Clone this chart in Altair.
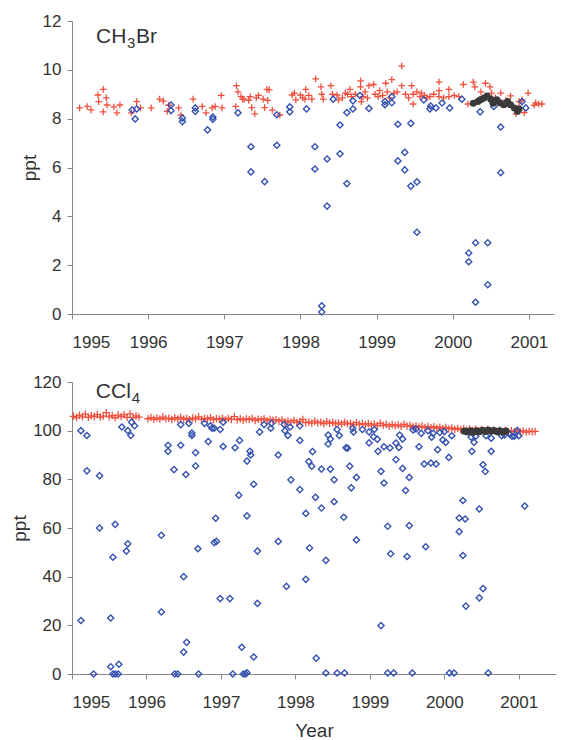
import altair as alt
import pandas as pd

# ---------------- CH3Br panel data ----------------
CH3BR_RED_YEAR = [
    1995.10, 1995.20, 1995.25, 1995.34, 1995.41, 1995.35, 1995.45, 1995.41, 1995.46, 1995.55,
    1995.59, 1995.63, 1995.78, 1995.85, 1995.90, 1996.04, 1996.15, 1996.20, 1996.25, 1996.27,
    1996.40, 1996.43, 1996.59, 1996.71, 1996.76, 1996.84, 1996.88, 1996.96, 1996.97, 1997.16,
    1997.18, 1997.22, 1997.24, 1997.15, 1997.26, 1997.32, 1997.34, 1997.42, 1997.45, 1997.51,
    1997.56, 1997.57, 1997.53, 1997.63, 1997.36, 1997.40, 1997.73, 1997.59, 1997.89, 1997.94,
    1998.00, 1998.07, 1998.06, 1998.11, 1998.15, 1998.20, 1998.27, 1998.28, 1998.30, 1998.40,
    1998.42, 1998.48, 1998.50, 1998.59, 1998.65, 1998.67, 1998.79, 1998.79, 1998.80, 1998.82,
    1998.85, 1998.90, 1998.96, 1998.98, 1999.02, 1999.04, 1999.12, 1999.14, 1999.20, 1999.27,
    1999.33, 1999.33, 1999.38, 1999.46, 1999.48, 1999.48, 1999.53, 1999.57, 1999.59, 1999.63,
    1999.70, 1999.82, 1999.82, 1999.82, 1999.95, 1999.95, 2000.08, 2000.14, 2000.20, 2000.27,
    2000.29, 2000.37, 2000.43, 2000.49, 2000.51, 2000.63, 2000.76, 2000.83, 2000.91, 2000.99,
    2000.94, 2001.09, 2001.13, 2001.17, 2001.07, 1997.92, 1998.03, 1998.55, 1998.62, 1998.72,
    1998.88, 1999.08, 1999.17, 1999.23, 1999.42, 1999.66, 1999.75, 1999.88, 2000.02, 2000.33,
    2000.56, 2000.70, 2000.87,
]
CH3BR_RED_PPT = [
    8.44, 8.50, 8.36, 8.97, 9.20, 8.70, 8.85, 8.28, 8.56, 8.48,
    8.24, 8.56, 8.24, 8.70, 8.44, 8.44, 8.80, 8.72, 8.30, 8.55,
    8.44, 8.15, 8.80, 8.50, 8.24, 8.44, 8.50, 8.95, 8.44, 9.35,
    9.10, 8.90, 8.80, 8.50, 8.80, 8.75, 8.90, 8.85, 8.95, 8.80,
    9.20, 8.75, 8.45, 8.35, 8.45, 8.20, 8.15, 9.18, 8.97, 8.77,
    8.97, 9.20, 8.80, 8.95, 8.80, 9.63, 9.30, 9.00, 8.80, 9.35,
    9.00, 8.97, 8.77, 9.05, 9.20, 8.90, 9.55, 9.30, 8.70, 8.90,
    9.10, 9.35, 9.40, 9.00, 8.90, 9.15, 9.45, 9.10, 9.60, 9.10,
    10.15, 9.35, 9.00, 9.35, 9.00, 8.60, 9.10, 8.90, 9.05, 8.95,
    8.90, 9.50, 9.15, 8.90, 9.20, 8.90, 8.90, 9.40, 8.60, 9.50,
    9.30, 9.10, 9.45, 9.30, 9.05, 9.05, 8.93, 8.20, 8.77, 9.05,
    8.25, 8.65, 8.60, 8.60, 8.55, 9.05, 8.85, 8.85, 9.00, 9.00,
    8.85, 8.95, 8.85, 9.05, 8.85, 8.85, 9.00, 8.85, 8.95, 8.75,
    8.85, 8.75, 8.70,
]
CH3BR_BLUE_YEAR = [
    1995.79, 1995.85, 1995.83, 1996.30, 1996.30, 1996.45, 1996.45, 1996.62, 1996.62, 1996.85,
    1996.85, 1996.78, 1997.18, 1997.35, 1997.35, 1997.53, 1997.69, 1997.69, 1997.86, 1997.86,
    1998.08, 1998.19, 1998.19, 1998.28, 1998.28, 1998.35, 1998.35, 1998.43, 1998.52, 1998.52,
    1998.61, 1998.61, 1998.69, 1998.69, 1998.78, 1998.90, 1999.11, 1999.11, 1999.20, 1999.20,
    1999.28, 1999.28, 1999.37, 1999.37, 1999.45, 1999.45, 1999.53, 1999.53, 1999.62, 1999.71,
    1999.70, 1999.78, 1999.86, 1999.96, 2000.12, 2000.21, 2000.21, 2000.30, 2000.30, 2000.36,
    2000.46, 2000.46, 2000.54, 2000.63, 2000.63, 2000.91, 2000.96,
]
CH3BR_BLUE_PPT = [
    8.36, 8.40, 7.99, 8.56, 8.33, 8.02, 7.88, 8.44, 8.30, 8.07,
    7.98, 7.54, 8.24, 6.85, 5.82, 5.42, 8.16, 6.91, 8.48, 8.28,
    8.40, 6.85, 5.94, 0.33, 0.08, 6.35, 4.42, 8.80, 7.74, 6.56,
    8.25, 5.34, 8.40, 8.73, 8.95, 8.42, 8.57, 8.70, 8.90, 8.65,
    7.77, 6.27, 6.62, 5.90, 7.81, 5.24, 5.41, 3.35, 8.77, 8.52,
    8.40, 8.44, 8.64, 8.44, 8.80, 2.50, 2.14, 2.92, 0.48, 8.28,
    2.92, 1.20, 8.50, 7.66, 5.79, 8.70, 8.44,
]
CH3BR_DARK_YEAR = [
    2000.27, 2000.33, 2000.37, 2000.41, 2000.45, 2000.50, 2000.53, 2000.58, 2000.62, 2000.67,
    2000.72, 2000.76, 2000.81, 2000.85, 2000.87, 2000.55, 2000.70,
]
CH3BR_DARK_PPT = [
    8.63, 8.70, 8.78, 8.85, 8.93, 8.80, 8.63, 8.77, 8.65, 8.57,
    8.70, 8.57, 8.44, 8.30, 8.40, 8.72, 8.62,
]

# ---------------- CCl4 panel data ----------------
# dense in-situ record, sampled every 0.04 yr within each continuous segment
CCL4_RED_SEGMENT_START = [1995.02, 1996.02, 1997.78]
CCL4_RED_STEP = 0.04
CCL4_RED_SEG1 = [105.9, 105.4, 106.3, 105.7, 106.8, 105.5, 106.1, 105.8, 106.6, 105.6,
                 106.0, 107.4, 105.7, 106.2, 105.3, 106.4, 105.8, 106.5, 105.5, 106.9,
                 105.4, 106.1, 105.6]
CCL4_RED_SEG2 = [104.9, 105.4, 104.7, 105.2, 104.8, 105.6, 104.9, 105.1, 104.6, 105.3,
                 104.8, 105.5, 104.7, 105.0, 104.5, 105.2, 104.9, 105.7, 104.6, 105.0,
                 104.8, 105.3, 104.5, 104.9, 104.7, 105.1, 104.4, 105.0, 104.6, 105.8,
                 104.5, 104.9, 104.3, 104.8, 104.6, 105.0, 104.2, 104.7, 104.4, 104.9,
                 104.1, 104.6, 104.3, 104.5]
CCL4_RED_SEG3 = [103.9, 104.4, 103.6, 104.0, 103.5, 104.2, 103.4, 103.8, 104.6, 103.3,
                 103.6, 103.1, 103.9, 103.2, 103.5, 102.9, 103.7, 103.0, 103.4, 102.8,
                 103.2, 102.7, 103.5, 102.8, 103.0, 102.5, 103.3, 102.6, 102.9, 102.4,
                 102.9, 102.3, 102.7, 102.1, 103.0, 102.2, 102.6, 101.9, 102.5, 102.0,
                 102.4, 101.8, 102.6, 101.9, 102.2, 101.6, 102.0, 101.5, 101.9, 101.3,
                 101.7, 101.2, 101.6, 101.0, 101.4, 100.8, 101.3, 100.7, 101.1, 100.5,
                 100.9, 100.4, 100.8, 100.2, 100.7, 100.1, 100.6, 100.0, 100.5, 99.9,
                 100.4, 99.8, 100.3, 99.7, 100.2, 99.6, 100.1, 99.5, 100.0, 99.6,
                 100.1, 99.5, 99.9, 99.4, 99.8, 99.6, 99.7]

CCL4_BLUE_YEAR = [
    1995.12, 1995.20, 1995.20, 1995.12, 1995.29, 1995.37, 1995.37, 1995.52, 1995.52, 1995.55,
    1995.58, 1995.55, 1995.58, 1995.62, 1995.63, 1995.67, 1995.73, 1995.75, 1995.75, 1995.79,
    1995.80, 1995.84, 1996.20, 1996.20, 1996.29, 1996.29, 1996.37, 1996.38, 1996.42, 1996.46,
    1996.46, 1996.50, 1996.50, 1996.53, 1996.54, 1996.57, 1996.61, 1996.61, 1996.66, 1996.66,
    1996.69, 1996.70, 1996.78, 1996.83, 1996.86, 1996.88, 1996.91, 1996.93, 1996.91, 1996.94,
    1996.99, 1996.99, 1997.03, 1997.03, 1997.12, 1997.16, 1997.19, 1997.25, 1997.24, 1997.28,
    1997.30, 1997.33, 1997.35, 1997.35, 1997.35, 1997.39, 1997.40, 1997.44, 1997.44, 1997.49,
    1997.49, 1997.52, 1997.58, 1997.67, 1997.68, 1997.77, 1997.77, 1997.85, 1997.86, 1997.90,
    1997.88, 1997.93, 1997.94, 1998.06, 1998.06, 1998.06, 1998.14, 1998.14, 1998.18, 1998.19,
    1998.22, 1998.23, 1998.27, 1998.28, 1998.35, 1998.35, 1998.41, 1998.41, 1998.44, 1998.44,
    1998.47, 1998.47, 1998.52, 1998.52, 1998.56, 1998.59, 1998.56, 1998.66, 1998.65, 1998.68,
    1998.70, 1998.73, 1998.75, 1998.77, 1998.78, 1998.82, 1998.82, 1998.90, 1998.99, 1998.99,
    1999.06, 1999.05, 1999.10, 1999.11, 1999.15, 1999.15, 1999.19, 1999.19, 1999.24, 1999.24,
    1999.32, 1999.27, 1999.28, 1999.35, 1999.35, 1999.39, 1999.40, 1999.44, 1999.44, 1999.48,
    1999.50, 1999.53, 1999.53, 1999.57, 1999.58, 1999.62, 1999.66, 1999.69, 1999.73, 1999.75,
    1999.78, 1999.82, 1999.89, 1999.83, 1999.85, 1999.91, 1999.94, 1999.98, 2000.00, 2000.02,
    2000.06, 2000.07, 2000.13, 2000.10, 2000.20, 2000.20, 2000.25, 2000.25, 2000.28, 2000.29,
    2000.36, 2000.37, 2000.40, 2000.42, 2000.47, 2000.47, 2000.52, 2000.52, 2000.55, 2000.56,
    2000.59, 2000.63, 2000.63, 2000.77, 2000.81, 2000.88, 2000.91, 2000.94, 2000.98, 2001.00,
    2001.08,
]
CCL4_BLUE_PPT = [
    100.0, 98.0, 83.5, 22.0, 0.0, 81.5, 60.0, 23.0, 3.0, 48.0,
    61.5, 0.0, 0.0, 0.0, 4.0, 101.5, 50.5, 53.5, 100.0, 98.0,
    103.5, 102.0, 57.0, 25.5, 94.0, 91.5, 84.0, 0.0, 0.0, 94.0,
    102.5, 40.0, 9.0, 82.0, 13.0, 103.0, 99.0, 98.0, 91.0, 85.5,
    51.5, 0.0, 103.0, 95.5, 102.0, 101.0, 101.0, 64.0, 54.0, 54.5,
    31.0, 100.5, 103.5, 93.5, 31.0, 0.0, 93.0, 96.0, 73.5, 11.0,
    0.0, 0.0, 0.5, 65.0, 87.5, 91.5, 90.0, 78.0, 7.0, 50.5,
    29.0, 99.5, 102.5, 101.0, 103.0, 90.0, 54.5, 102.5, 100.0, 98.0,
    36.0, 101.5, 79.8, 102.0, 96.0, 75.8, 66.0, 38.9, 87.3, 51.8,
    85.4, 91.4, 72.6, 6.5, 84.2, 68.2, 46.7, 0.4, 98.2, 94.5,
    96.6, 84.2, 79.8, 70.8, 100.5, 98.0, 0.4, 0.4, 64.4, 93.0,
    92.8, 85.4, 76.5, 101.0, 99.5, 80.8, 55.1, 100.5, 99.5, 95.0,
    100.5, 97.5, 96.5, 91.5, 83.3, 19.9, 78.5, 93.4, 60.7, 0.4,
    0.4, 92.9, 49.4, 94.9, 88.1, 93.1, 98.2, 96.6, 84.5, 75.4,
    48.3, 80.8, 61.0, 0.4, 100.3, 100.7, 93.4, 98.9, 86.3, 52.3,
    100.0, 86.7, 86.3, 97.3, 98.9, 92.2, 99.3, 96.2, 99.6, 95.2,
    89.0, 0.4, 0.4, 97.9, 58.5, 64.1, 71.3, 48.7, 63.7, 27.9,
    97.3, 91.5, 95.2, 97.7, 31.3, 67.8, 86.0, 35.1, 83.2, 97.9,
    0.4, 96.9, 91.5, 97.9, 98.2, 98.6, 97.7, 97.7, 100.0, 97.9,
    69.0,
]
CCL4_DARK_YEAR = [
    2000.27, 2000.31, 2000.35, 2000.39, 2000.43, 2000.47, 2000.51, 2000.55, 2000.59, 2000.63,
    2000.67, 2000.71, 2000.75, 2000.79, 2000.83,
]
CCL4_DARK_PPT = [
    99.8, 99.5, 100.0, 99.4, 99.9, 99.6, 100.2, 99.7, 100.3, 99.8,
    100.1, 99.6, 100.0, 99.5, 99.8,
]

YEAR_TICKS = [1995, 1996, 1997, 1998, 1999, 2000, 2001]
CH3BR_TICKS = [0, 2, 4, 6, 8, 10, 12]
CCL4_TICKS = [0, 20, 40, 60, 80, 100, 120]

RED = "#f2503f"
BLUE = "#3552b0"
DARK = "#3a3a3a"
FONT = "Liberation Sans"
CROSS = "M-1,0L1,0M0,-1L0,1"

# build CCl4 red table from segments
red_years, red_vals = [], []
for start, seg in zip(CCL4_RED_SEGMENT_START, [CCL4_RED_SEG1, CCL4_RED_SEG2, CCL4_RED_SEG3]):
    for i, v in enumerate(seg):
        red_years.append(round(start + i * CCL4_RED_STEP, 3))
        red_vals.append(v)


def panel(red_x, red_y, blue_x, blue_y, dark_x, dark_y, ydom, yticks, xdom,
          label_parts, label_pos, xtitle, red_size):
    if xtitle:
        xaxis = alt.Axis(values=YEAR_TICKS, format="d", title=xtitle, titlePadding=11)
    else:
        xaxis = alt.Axis(values=YEAR_TICKS, format="d", title=None)
    xenc = alt.X("year:Q", scale=alt.Scale(domain=xdom, nice=False, zero=False), axis=xaxis)
    yenc = alt.Y("ppt:Q",
                 scale=alt.Scale(domain=ydom, nice=False, zero=True),
                 axis=alt.Axis(values=yticks, title="ppt", titlePadding=3))
    red = alt.Chart(pd.DataFrame({"year": red_x, "ppt": red_y})).mark_point(
        shape=CROSS, filled=False, size=red_size, strokeWidth=1.3, color=RED, opacity=1
    ).encode(x=xenc, y=yenc)
    blue = alt.Chart(pd.DataFrame({"year": blue_x, "ppt": blue_y})).mark_point(
        shape="diamond", filled=False, size=38, strokeWidth=1.4, color=BLUE, opacity=1
    ).encode(x=xenc, y=yenc)
    dark = alt.Chart(pd.DataFrame({"year": dark_x, "ppt": dark_y})).mark_point(
        shape="circle", filled=True, size=50, color=DARK, opacity=1
    ).encode(x=xenc, y=yenc)
    lx, ly = label_pos
    texts = []
    for txt, dx, dy, fs in label_parts:
        texts.append(
            alt.Chart(pd.DataFrame({"year": [lx], "ppt": [ly], "t": [txt]})).mark_text(
                align="left", baseline="alphabetic", dx=dx, dy=dy, fontSize=fs,
                font=FONT, color="#333"
            ).encode(x=alt.X("year:Q"), y=alt.Y("ppt:Q"), text="t:N")
        )
    return alt.layer(red, blue, dark, *texts)


top = panel(CH3BR_RED_YEAR, CH3BR_RED_PPT, CH3BR_BLUE_YEAR, CH3BR_BLUE_PPT,
            CH3BR_DARK_YEAR, CH3BR_DARK_PPT, [0, 12], CH3BR_TICKS, [1995, 2001.33],
            [("CH", 0, 0, 21), ("3", 31, 5, 15), ("Br", 40, 0, 21)], (1995.315, 11.1),
            None, 44).properties(width=482, height=293)

bottom = panel(red_years, red_vals, CCL4_BLUE_YEAR, CCL4_BLUE_PPT,
               CCL4_DARK_YEAR, CCL4_DARK_PPT, [0, 120], CCL4_TICKS, [1995, 2001.5],
               [("CCl", 0, 0, 21), ("4", 36, 5, 15)], (1995.32, 113.4),
               "Year", 56).properties(width=484, height=292)

chart = alt.vconcat(top, bottom, spacing=23).properties(
    padding={"left": 10, "top": 12, "right": 2, "bottom": 0}
).configure_axis(
    labelFont=FONT, titleFont=FONT, labelFontSize=17, titleFontSize=19,
    titleFontWeight="normal", labelColor="#333", titleColor="#333",
    domainColor="#888", tickColor="#888", tickSize=5, labelPadding=15,
    grid=False
).configure_axisY(labelPadding=6).configure_view(stroke=None)

chart.save("out.html", embed_options={"renderer": "svg", "actions": False})
